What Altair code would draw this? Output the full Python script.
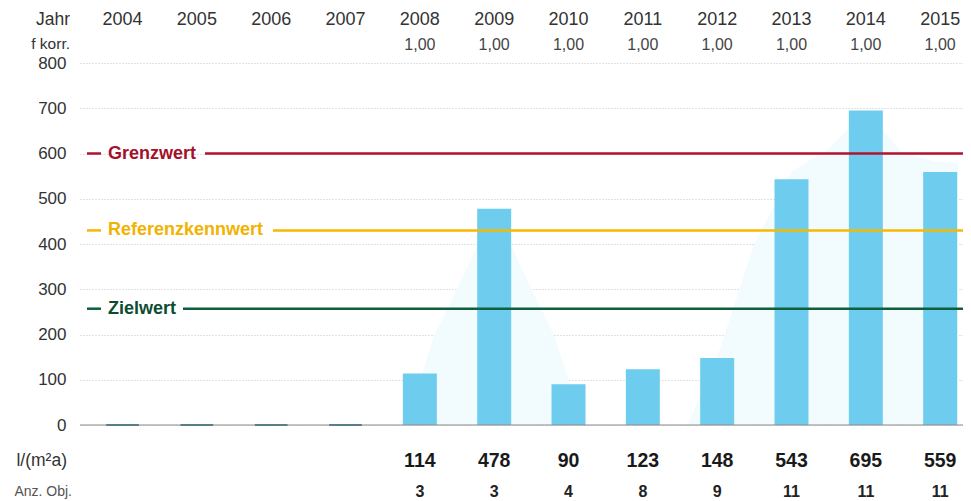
import altair as alt
import pandas as pd

# ---- data ----
years = [2004, 2005, 2006, 2007, 2008, 2009, 2010, 2011, 2012, 2013, 2014, 2015]
f_korr = [None, None, None, None, "1,00", "1,00", "1,00", "1,00", "1,00", "1,00", "1,00", "1,00"]
consumption = [None, None, None, None, 114, 478, 90, 123, 148, 543, 695, 559]
objects = [None, None, None, None, 3, 3, 4, 8, 9, 11, 11, 11]

thr_names = ["Grenzwert", "Referenzkennwert", "Zielwert"]
thr_values = [600, 430, 257]

# faint light-blue envelope behind the bars
env_years = [2007.8, 2008.2, 2008.5, 2009.0, 2009.5, 2009.8, 2010.2, 2011.6, 2012.0, 2012.5, 2013.0, 2013.5, 2014.0, 2014.5, 2015.0, 2015.24]
env_values = [0, 200, 300, 478, 300, 200, 0, 0, 150, 400, 560, 610, 695, 600, 580, 580]

# ---- tables ----
df = pd.DataFrame({"year": years, "fk": f_korr, "v": consumption, "n": objects})
bars_df = df.dropna(subset=["v"]).copy()
zero_df = df[df["v"].isna()].copy()
zero_df["z"] = 0
fk_df = df.dropna(subset=["fk"])
env_df = pd.DataFrame({"year": env_years, "v": env_values})

W, H = 883, 362
FONT = "Liberation Sans"

xscale = alt.Scale(domain=[2003.495, 2015.24], nice=False, zero=False)
yscale = alt.Scale(domain=[0, 800], nice=False)
yaxis = alt.Axis(values=list(range(0, 801, 100)), title=None, ticks=False, domain=False,
                 labelFont=FONT, labelFontSize=17, labelColor="#333333", labelPadding=14,
                 gridColor="#c4c4c4", gridDash=[1, 2], gridWidth=1)

def X(field="year"):
    return alt.X(f"{field}:Q", scale=xscale, axis=None)

def Y(field="v"):
    return alt.Y(f"{field}:Q", scale=yscale, axis=yaxis)

envelope = alt.Chart(env_df).mark_area(color="#f2fbfe", interpolate="linear").encode(x=X(), y=Y())

bars = alt.Chart(bars_df).mark_bar(color="#6ecdee", size=34).encode(x=X(), y=Y())

stubs = alt.Chart(zero_df).transform_calculate(
    x1="datum.year - 0.22", x2="datum.year + 0.22"
).mark_rule(color="#2a7383", strokeWidth=2).encode(
    x=alt.X("x1:Q", scale=xscale, axis=None), x2="x2:Q", y=Y("z"))

baseline = alt.Chart(pd.DataFrame({"z": [0]})).mark_rule(color="#8a8a8a", strokeWidth=1).encode(
    y=Y("z"), x=alt.value(0), x2=alt.value(W))

layers = [envelope, bars, stubs, baseline]

thr_line_colors = ["#b3122f", "#f6b800", "#0f5e3c"]
thr_text_colors = ["#a3102b", "#f2b200", "#0d4c33"]
gap_end = [125, 193, 103]
for name, val, lc, tc, g in zip(thr_names, thr_values, thr_line_colors, thr_text_colors, gap_end):
    tdf = pd.DataFrame({"v": [val], "name": [name]})
    base = alt.Chart(tdf)
    layers.append(base.mark_rule(color=lc, strokeWidth=2.5).encode(y=Y(), x=alt.value(7), x2=alt.value(21)))
    layers.append(base.mark_rule(color=lc, strokeWidth=2.5).encode(y=Y(), x=alt.value(g), x2=alt.value(W)))
    layers.append(base.mark_text(align="left", baseline="middle", font=FONT, fontSize=18,
                                 fontWeight="bold", color=tc).encode(y=Y(), x=alt.value(28), text="name:N"))

# header rows
year_txt = alt.Chart(df).mark_text(baseline="middle", font=FONT, fontSize=18, color="#333333").encode(
    x=X(), y=alt.value(-43), text="year:N")
fk_txt = alt.Chart(fk_df).mark_text(baseline="middle", font=FONT, fontSize=16, color="#444444").encode(
    x=X(), y=alt.value(-18), text="fk:N")
val_txt = alt.Chart(bars_df).mark_text(baseline="middle", font=FONT, fontSize=19.5, fontWeight="bold",
                                       color="#1a1a1a").encode(x=X(), y=alt.value(398), text="v:Q")
n_txt = alt.Chart(bars_df).mark_text(baseline="middle", font=FONT, fontSize=16, fontWeight="bold",
                                     color="#222222").encode(x=X(), y=alt.value(429), text="n:Q")

def row_label(lab, y, size, color, dx):
    return alt.Chart(pd.DataFrame({"lab": [lab]})).mark_text(
        align="right", baseline="middle", font=FONT, fontSize=size, color=color
    ).encode(x=alt.value(dx), y=alt.value(y), text="lab:N")

labs = [
    row_label("Jahr", -43, 17.5, "#333333", -10),
    row_label("f korr.", -19, 15.5, "#333333", -10),
    row_label("l/(m²a)", 398, 17.5, "#333333", -13),
    row_label("Anz. Obj.", 429, 14, "#555555", -8),
]

layers += [year_txt, fk_txt, val_txt, n_txt] + labs

chart = alt.layer(*layers).properties(
    width=W, height=H,
    autosize=alt.AutoSizeParams(type="none"),
    padding={"left": 72, "top": 55, "right": 0, "bottom": 76},
    background="white",
).configure_view(stroke=None)

chart.save("out.html", embed_options={"renderer": "svg", "actions": False})
